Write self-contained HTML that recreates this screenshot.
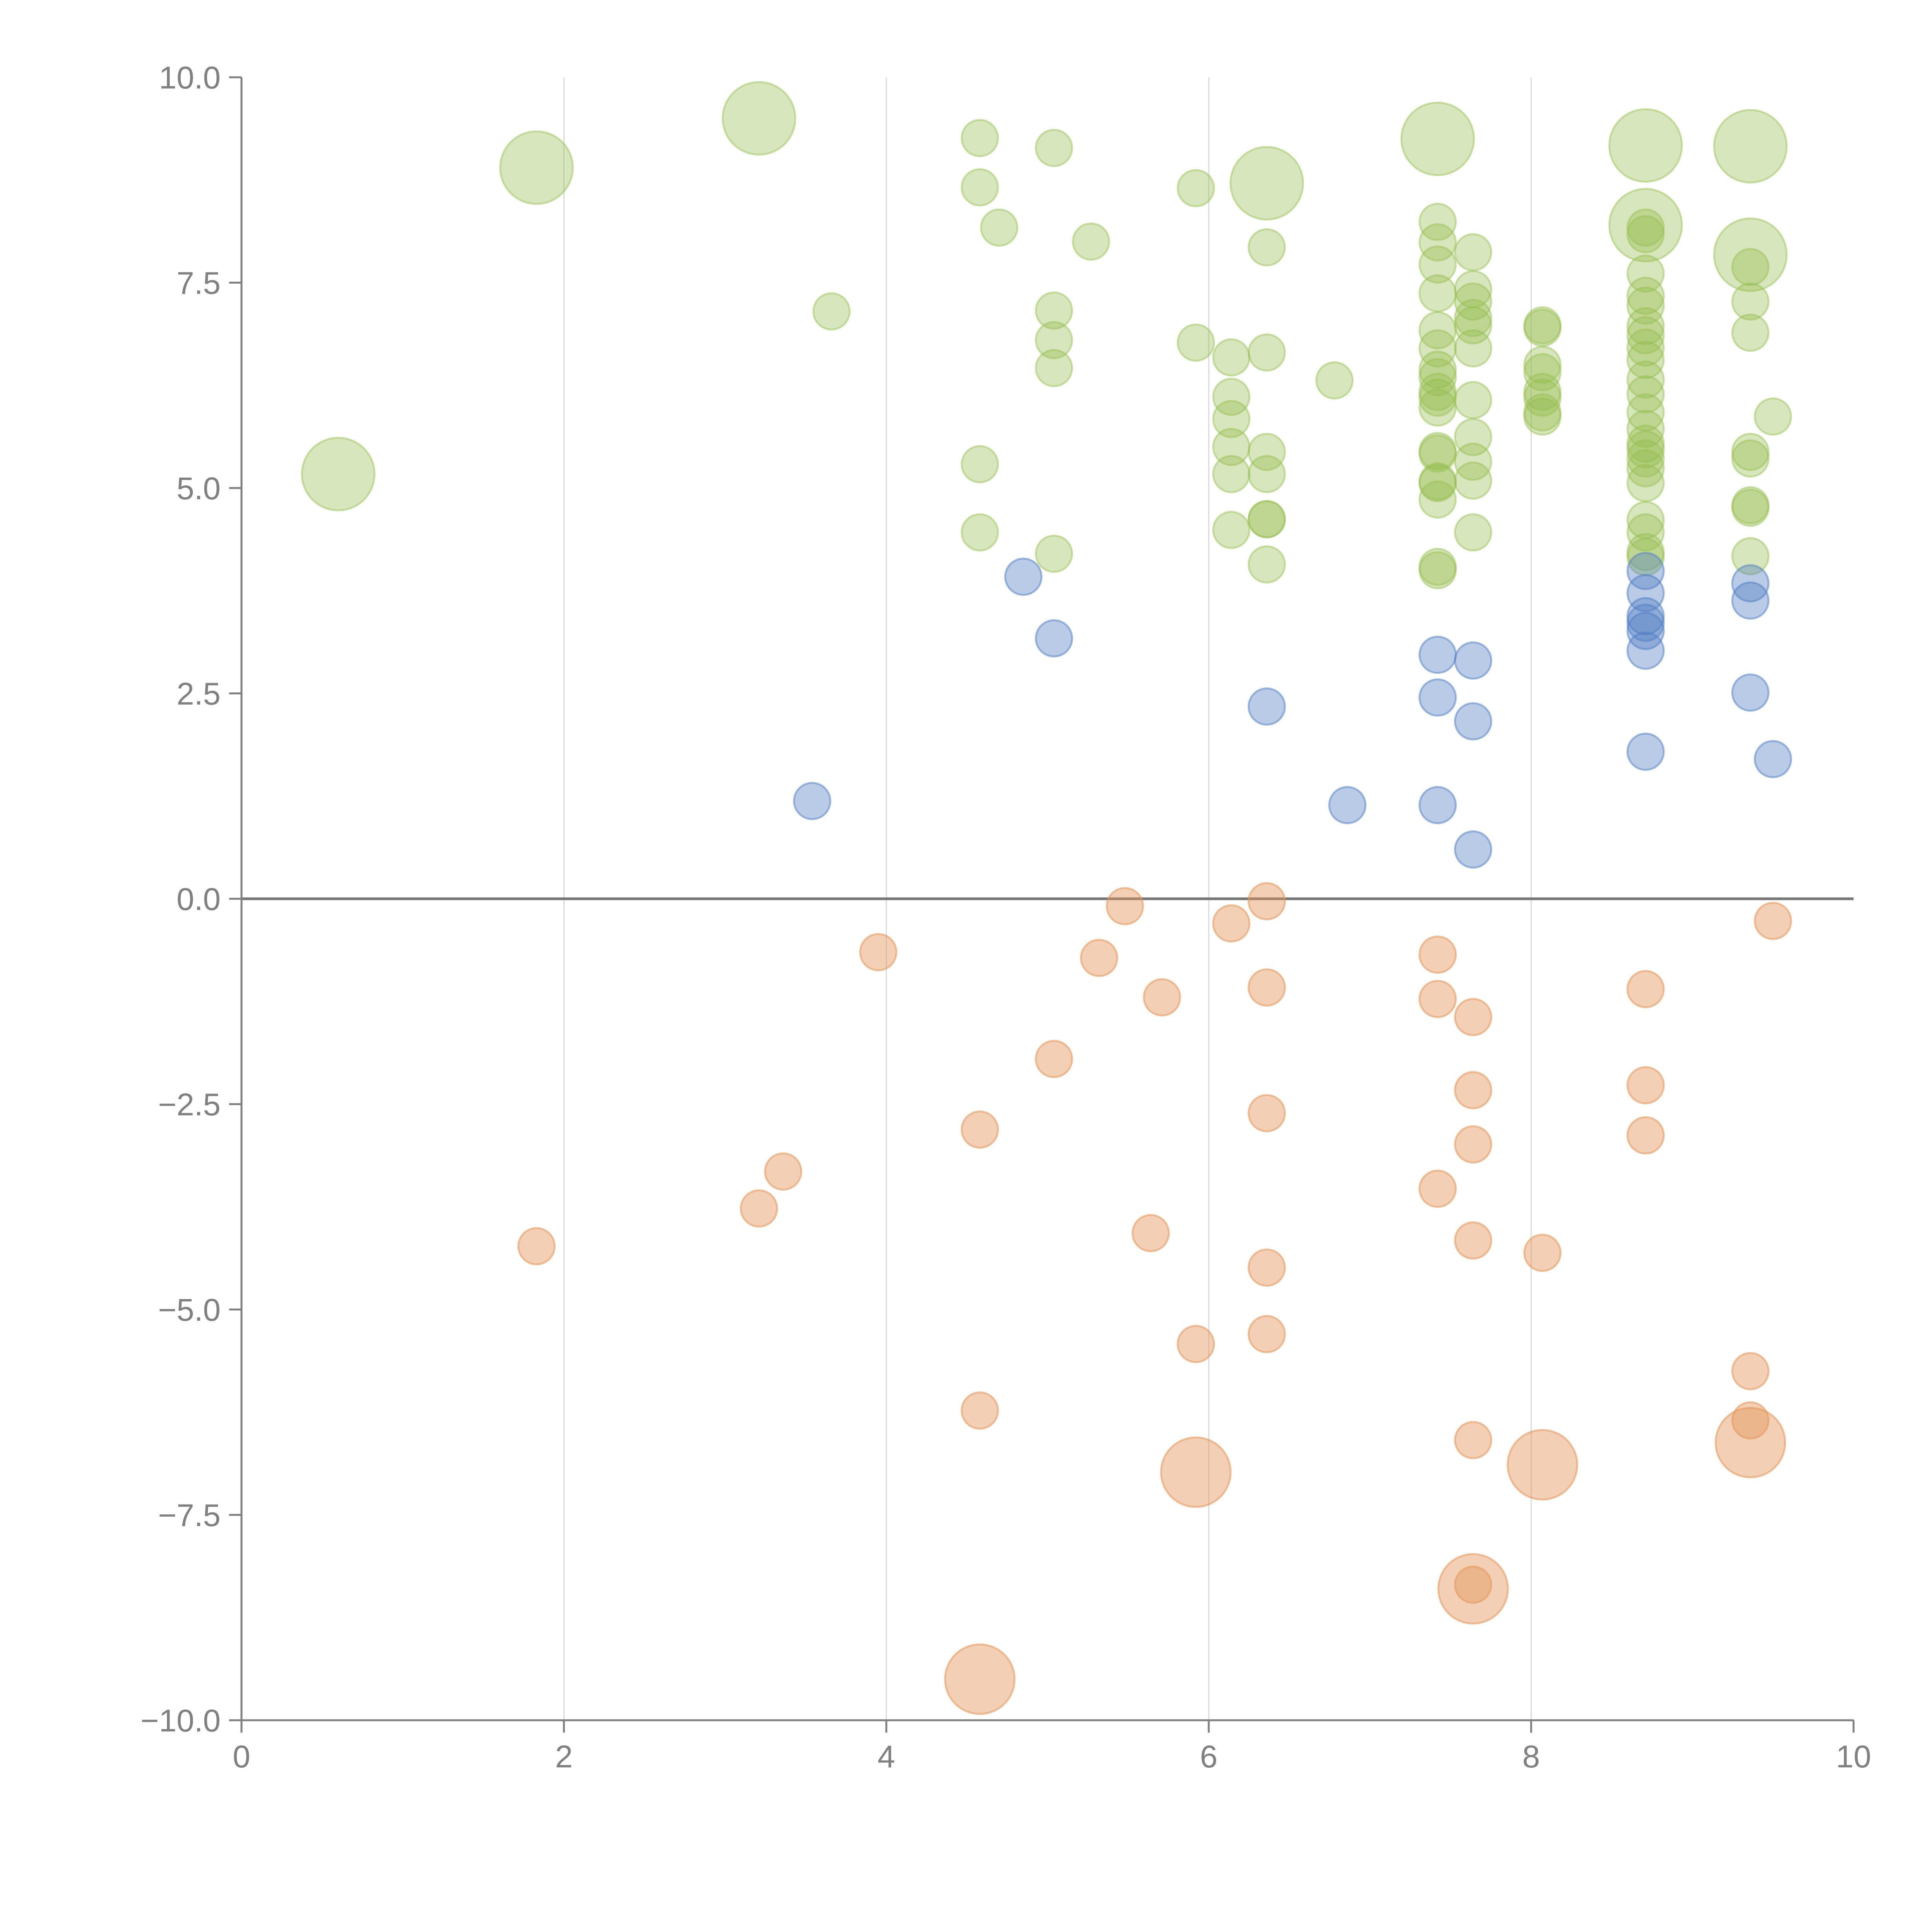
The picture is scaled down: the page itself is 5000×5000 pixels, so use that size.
<!DOCTYPE html>
<html><head><meta charset="utf-8"><style>
html,body{margin:0;padding:0;background:#fff;}
svg{display:block;font-family:"Liberation Sans",sans-serif;}
</style></head><body>
<svg id="chart" width="5000" height="5000" viewBox="0 0 5000 5000" xmlns="http://www.w3.org/2000/svg"></svg>
<script>
const xTicks=[0,2,4,6,8,10];
const yTicks=[-10,-7.5,-5,-2.5,0,2.5,5,7.5,10];
const greenX=[4.58,5.04,4.58,4.7,5.27,5.92,6.36,3.66,5.04,5.04,5.04,5.92,6.14,6.36,6.78,6.14,6.14,6.14,6.14,6.36,6.36,6.36,6.36,6.36,6.14,4.58,4.58,5.04,
7.42,7.42,7.42,7.42,7.42,7.42,7.42,7.42,7.42,7.42,7.42,7.42,7.42,7.42,7.42,7.42,7.42,7.42,
7.64,7.64,7.64,7.64,7.64,7.64,7.64,7.64,7.64,7.64,7.64,
8.07,8.07,8.07,8.07,8.07,8.07,8.07,8.07,
8.71,8.71,8.71,8.71,8.71,8.71,8.71,8.71,8.71,8.71,8.71,8.71,8.71,8.71,8.71,8.71,8.71,8.71,8.71,8.71,8.71,8.71,
9.36,9.36,9.36,9.36,9.36,9.36,9.36,9.36,9.5];
const greenY=[9.26,9.14,8.66,8.17,8.0,8.65,7.93,7.15,7.16,6.8,6.46,6.77,6.59,6.65,6.31,6.11,5.84,5.5,5.17,5.44,5.17,4.62,4.62,4.07,4.49,5.29,4.46,4.2,
8.24,7.99,7.72,7.37,6.92,6.70,6.44,6.35,6.17,6.10,5.98,5.45,5.42,5.08,5.06,4.86,4.04,4.0,
7.87,7.42,7.27,7.07,6.98,6.70,6.07,5.62,5.32,5.09,4.46,
6.98,6.95,6.50,6.41,6.17,6.10,5.92,5.87,
8.17,8.09,7.61,7.34,7.22,6.97,6.86,6.71,6.56,6.32,6.14,5.92,5.72,5.54,5.47,5.36,5.24,5.06,4.61,4.46,4.22,4.16,
7.69,7.27,6.89,5.44,5.36,4.79,4.76,4.17,5.87];
const greenBigX=[0.6,1.83,3.21,6.36,7.42,8.71,8.71,9.36,9.36];
const greenBigY=[5.17,8.90,9.50,8.71,9.25,9.17,8.2,9.16,7.84];
const blueX=[4.85,5.04,3.54,6.36,6.86,7.42,7.42,7.42,7.64,7.64,7.64,8.71,8.71,8.71,8.71,8.71,8.71,8.71,9.36,9.36,9.36,9.5];
const blueY=[3.92,3.17,1.19,2.34,1.14,2.97,2.45,1.14,2.9,2.16,0.6,3.99,3.72,3.44,3.36,3.26,3.02,1.79,3.84,3.63,2.51,1.7];
const orangeX=[5.48,6.36,6.14,3.95,5.32,5.71,6.36,5.04,4.58,6.36,3.36,3.21,1.83,5.64,6.36,5.92,6.36,4.58,7.42,7.42,7.42,7.64,7.64,7.64,7.64,7.64,7.64,8.07,8.71,8.71,8.71,9.36,9.36,9.5];
const orangeY=[-0.09,-0.03,-0.30,-0.65,-0.72,-1.2,-1.08,-1.95,-2.81,-2.61,-3.32,-3.77,-4.23,-4.07,-4.49,-5.42,-5.3,-6.23,-0.68,-1.22,-3.53,-1.44,-2.33,-2.99,-4.16,-6.59,-8.35,-4.31,-1.1,-2.27,-2.88,-5.75,-6.35,-0.27];
const orangeBigX=[5.92,4.58,7.64,8.07,9.36];
const orangeBigY=[-6.98,-9.5,-8.4,-6.89,-6.62];

const X0=625,X1=4797,Y0=4452,Y1=200;
const sx=v=>X0+(v-0)/(10-0)*(X1-X0);
const sy=v=>Y0-(v+10)/20*(Y0-Y1);
const svg=document.getElementById('chart');
const NS='http://www.w3.org/2000/svg';
function mk(t,a){const e=document.createElementNS(NS,t);for(const k in a)e.setAttribute(k,a[k]);svg.appendChild(e);return e;}

xTicks.slice(1,5).forEach(t=>{
  const g=mk('line',{x1:sx(t),x2:sx(t),y1:Y1,y2:Y0,stroke:'#d9d9d9','stroke-width':3});
  
  
});
const z=mk('line',{x1:X0,x2:X1,y1:sy(0),y2:sy(0),stroke:'#777','stroke-width':7});



function dots(xs,ys,r,fill,stroke,name){
  for(let i=0;i<xs.length;i++){
    const c=mk('circle',{cx:sx(xs[i]),cy:sy(ys[i]),r:r,fill:fill,stroke:stroke,'stroke-width':5});
    
    
  }
}
dots(greenX,greenY,47,'rgba(150,190,80,0.38)','rgba(150,190,80,0.45)','green-point');
dots(greenBigX,greenBigY,94,'rgba(150,190,80,0.38)','rgba(150,190,80,0.45)','green-large-point');
dots(blueX,blueY,47,'rgba(80,125,195,0.4)','rgba(80,125,195,0.5)','blue-point');
dots(orangeX,orangeY,47,'rgba(228,150,90,0.45)','rgba(228,150,90,0.55)','orange-point');
dots(orangeBigX,orangeBigY,90,'rgba(228,150,90,0.45)','rgba(228,150,90,0.55)','orange-large-point');

const ya=mk('line',{x1:X0,x2:X0,y1:Y1,y2:Y0,stroke:'#808080','stroke-width':5});


const xa=mk('line',{x1:X0-32,x2:X1,y1:Y0,y2:Y0,stroke:'#808080','stroke-width':5});



yTicks.forEach(t=>{
  const y=sy(t);
  const tk=mk('line',{x1:X0-32,x2:X0,y1:y,y2:y,stroke:'#808080','stroke-width':5});
  
  
  const tx=mk('text',{x:X0-54,y:y+29,'text-anchor':'end','font-size':82,fill:'#808080'});
  tx.textContent=(t<0?'\u2212':'')+Math.abs(t).toFixed(1);
  
  
});
xTicks.forEach(t=>{
  const x=sx(t);
  const tk=mk('line',{x1:x,x2:x,y1:Y0,y2:Y0+32,stroke:'#808080','stroke-width':5});
  
  
  const tx=mk('text',{x:x,y:Y0+122,'text-anchor':'middle','font-size':82,fill:'#808080'});
  tx.textContent=String(t);
  
  
});
</script>
</body></html>
